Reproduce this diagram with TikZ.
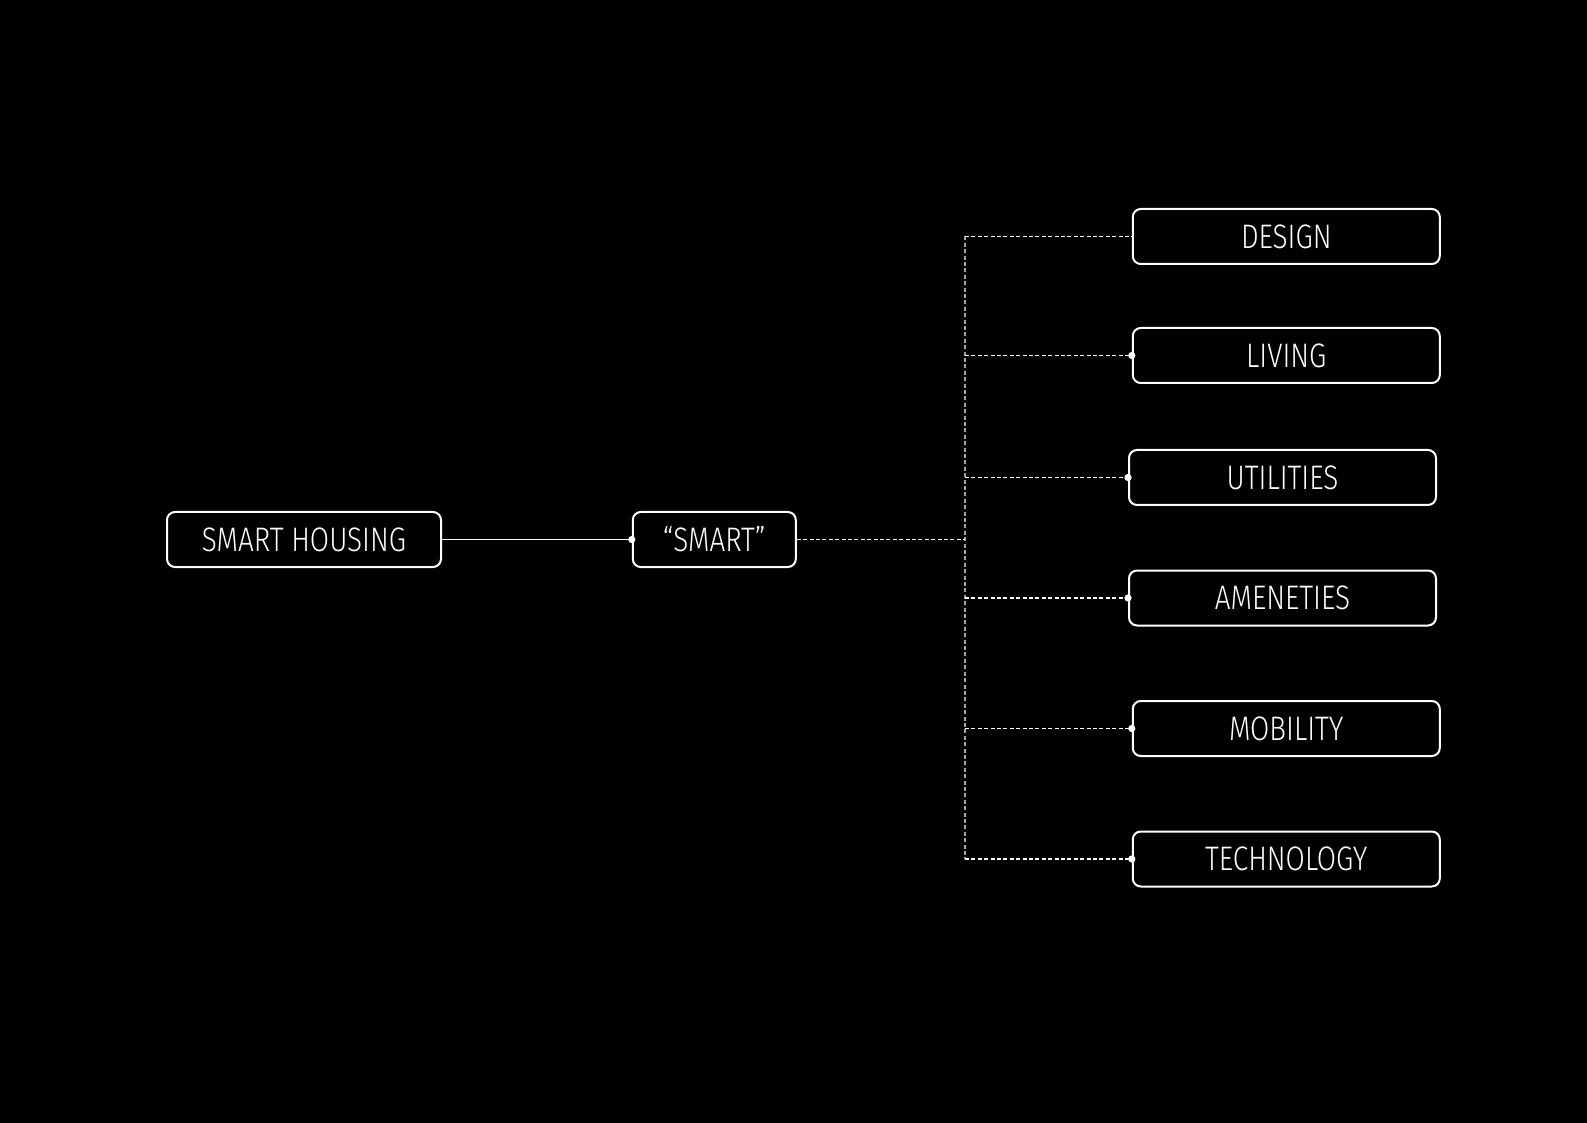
\documentclass[tikz,border=0pt]{standalone}
\usepackage{fontspec}
\setmainfont{Fira Sans Light}[FakeStretch=0.82]
\begin{document}
\begin{tikzpicture}[x=0.5pt,y=-0.5pt,
  box/.style={draw=white, line width=1pt, rounded corners=4pt, minimum height=27.5pt, inner sep=0pt, text=white, font=\fontsize{17}{18}\selectfont},
  solidlink/.style={draw=white, line width=0.5pt},
  dashlink/.style={draw=white, line width=0.6pt, dash pattern=on 2pt off 1.2pt},
  trunk/.style={draw=gray!70, line width=0.7pt, dash pattern=on 2pt off 1.2pt},
  dotc/.style={fill=white}]
\fill[black] (0,0) rectangle (1587,1123);
\useasboundingbox (0,0) rectangle (1587,1123);
\node[box, minimum width=137pt] (house) at (304,539.5) {SMART HOUSING};
\node[box, minimum width=81.5pt] (smart) at (714.3,539.5) {“SMART”};
\node[box, minimum width=153.5pt] (design) at (1286.3,236.5) {DESIGN};
\node[box, minimum width=153.5pt] (living) at (1286.3,355.5) {LIVING};
\node[box, minimum width=153.5pt] (util) at (1282.5,477.5) {UTILITIES};
\node[box, minimum width=153.5pt] (amen) at (1282.5,598) {AMENETIES};
\node[box, minimum width=153.5pt] (mob) at (1286.3,728.5) {MOBILITY};
\node[box, minimum width=153.5pt] (tech) at (1286.3,859) {TECHNOLOGY};
\coordinate (jt) at (965,539.5);
\coordinate (tt) at (965,236.5);
\coordinate (tb) at (965,859);
\draw[trunk] (tt) -- (tb);
\draw[solidlink] (house.east) -- (smart.west);
\draw[dashlink] (smart.east) -- (jt);
\foreach \n in {design,living,util,amen,mob,tech}{
  \draw[dashlink] (\n.west -| jt) -- (\n.west);
}
\foreach \n in {smart,living,util,amen,mob,tech}{
  \fill[dotc] (\n.west) circle (1.8pt);
}
\end{tikzpicture}
\end{document}
